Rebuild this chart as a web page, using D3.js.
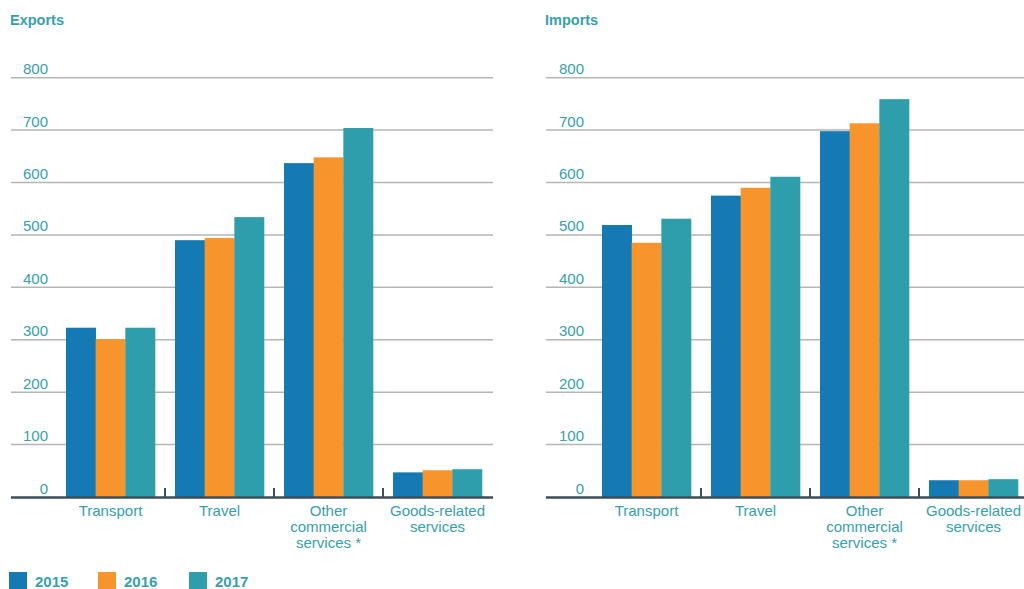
<!DOCTYPE html>
<html>
<head>
<meta charset="utf-8">
<script src="https://cdn.jsdelivr.net/npm/d3@7"></script>
<style>
  html, body { margin: 0; padding: 0; background: #fff; }
  svg { display: block; font-family: "Liberation Sans", Arial, Helvetica, sans-serif; }
</style>
</head>
<body>
<svg id="chart" width="1024" height="589"></svg>
<script>
// ---- data ----
const categories = ["Transport", "Travel", "Other commercial services *", "Goods-related services"];
const categoryLines = [["Transport"], ["Travel"], ["Other", "commercial", "services *"], ["Goods-related", "services"]];
const years = ["2015", "2016", "2017"];
const exports2015 = [323, 490, 637, 47];
const exports2016 = [301, 494, 648, 51];
const exports2017 = [323, 534, 704, 53];
const imports2015 = [519, 575, 698, 32];
const imports2016 = [485, 590, 713, 32];
const imports2017 = [531, 611, 759, 34];
const yTicks = [0, 100, 200, 300, 400, 500, 600, 700, 800];
const panelTitles = ["Exports", "Imports"];

const colors = ["#157ab3", "#f7942b", "#2f9eac"];
const textColor = "#36a0ae";

const svg = d3.select("#chart");

const y = d3.scaleLinear().domain([0, 800]).range([497, 77.7]);

const panels = [
  { title: panelTitles[0], titleX: 10, gridX0: 11, gridX1: 493, labelX: 48, band: [56, 492],
    series: [exports2015, exports2016, exports2017] },
  { title: panelTitles[1], titleX: 545, gridX0: 546, gridX1: 1024, labelX: 584, band: [592, 1028],
    series: [imports2015, imports2016, imports2017] }
];

panels.forEach(p => {
  const g = svg.append("g");
  const x0 = d3.scaleBand().domain(categories).range(p.band).paddingInner(20 / 109).paddingOuter(10 / 109);
  const x1 = d3.scaleBand().domain(years).range([0, x0.bandwidth()]);

  // title
  g.append("text").attr("x", p.titleX).attr("y", 25)
    .attr("font-size", 14.5).attr("font-weight", "bold").attr("fill", textColor)
    .text(p.title);

  // gridlines
  g.selectAll("line.grid").data(yTicks.filter(t => t > 0)).join("line")
    .attr("class", "grid")
    .attr("x1", p.gridX0).attr("x2", p.gridX1)
    .attr("y1", d => y(d)).attr("y2", d => y(d))
    .attr("stroke", "#b5b5b5").attr("stroke-width", 1.5);

  // tick labels
  g.selectAll("text.ytick").data(yTicks).join("text")
    .attr("class", "ytick")
    .attr("x", p.labelX).attr("y", d => y(d) - 3.5)
    .attr("text-anchor", "end")
    .attr("font-size", 15).attr("fill", textColor)
    .text(d => d);

  // bars
  const rows = categories.map((c, i) => ({ cat: c, vals: years.map((yr, k) => ({ yr, v: p.series[k][i], k })) }));
  const grp = g.selectAll("g.cat").data(rows).join("g")
    .attr("class", "cat")
    .attr("transform", d => `translate(${x0(d.cat)},0)`);
  grp.selectAll("rect").data(d => d.vals).join("rect")
    .attr("x", d => x1(d.yr))
    .attr("width", x1.bandwidth() + 0.3)
    .attr("y", d => y(d.v))
    .attr("height", d => y(0) - y(d.v))
    .attr("fill", d => colors[d.k]);

  // baseline axis
  g.append("line")
    .attr("x1", p.gridX0).attr("x2", p.gridX1)
    .attr("y1", y(0) + 0.5).attr("y2", y(0) + 0.5)
    .attr("stroke", "#3c4e5a").attr("stroke-width", 2.5);

  // separator ticks between categories
  const step = x0.step();
  g.selectAll("line.sep").data(categories.slice(1)).join("line")
    .attr("class", "sep")
    .attr("x1", d => x0(d) - (step - x0.bandwidth()) / 2)
    .attr("x2", d => x0(d) - (step - x0.bandwidth()) / 2)
    .attr("y1", y(0) - 9).attr("y2", y(0))
    .attr("stroke", "#3c4e5a").attr("stroke-width", 2);

  // category labels
  categories.forEach((c, i) => {
    const t = g.append("text")
      .attr("text-anchor", "middle")
      .attr("font-size", 15).attr("fill", textColor);
    categoryLines[i].forEach((line, j) => {
      t.append("tspan")
        .attr("x", x0(c) + x0.bandwidth() / 2)
        .attr("y", 516 + j * 16)
        .text(line);
    });
  });
});

// legend
const legend = svg.append("g");
const legendX = [9, 98, 189];
years.forEach((yr, k) => {
  legend.append("rect").attr("x", legendX[k]).attr("y", 572).attr("width", 18).attr("height", 17).attr("fill", colors[k]);
  legend.append("text").attr("x", legendX[k] + 26).attr("y", 587)
    .attr("font-size", 15).attr("font-weight", "bold").attr("fill", textColor)
    .text(yr);
});
</script>
</body>
</html>
